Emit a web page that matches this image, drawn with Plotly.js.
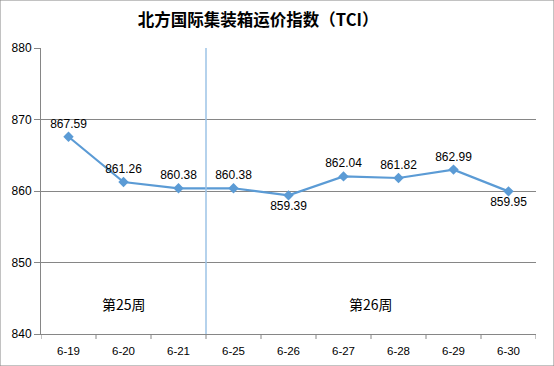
<!DOCTYPE html>
<html><head><meta charset="utf-8">
<script src="https://cdn.plot.ly/plotly-3.0.1.min.js"></script>
<style>html,body{margin:0;padding:0;background:#fff}#c{width:554px;height:366px}</style>
</head><body><div id="c"></div>
<script>
const dates = ["6-19","6-20","6-21","6-25","6-26","6-27","6-28","6-29","6-30"];
const tci = [867.59,861.26,860.38,860.38,859.39,862.04,861.82,862.99,859.95];
const labelPos = ["top center","top center","top center","top center","bottom center","top center","top center","top center","bottom center"];
const weekLabels = ["第25周","第26周"];
const weekX = [1.0, 5.5];
const weekY = 844.2;
const dividerX = 2.5;
const yTicks = [840,850,860,870,880];

const font = "Liberation Sans, Arial, sans-serif";
const trace = {
  x: dates.map((d,i)=>i), y: tci, type: "scatter", mode: "lines+markers+text",
  text: tci.map(v=>v.toFixed(2)), textposition: labelPos,
  textfont: {family: font, size: 12, color: "#000"},
  line: {color: "#5B9BD5", width: 2.2},
  marker: {symbol: "diamond", size: 8, color: "#5B9BD5"},
  cliponaxis: false, hoverinfo: "skip"
};
const layout = {
  width: 554, height: 366,
  margin: {l: 41, r: 18, t: 48, b: 32},
  paper_bgcolor: "#fff", plot_bgcolor: "#fff",
  showlegend: false,
  title: {text: "<b>北方国际集装箱运价指数（TCI）</b>", x: 0.466, xanchor: "center", y: 0.945, yanchor: "middle",
          font: {family: "Noto Sans CJK SC, sans-serif", size: 16.5, color: "#000"}},
  xaxis: {
    range: [-0.5, 8.5], tickmode: "array", tickvals: dates.map((d,i)=>i), ticktext: dates,
    showgrid: false, zeroline: false, showline: true, linecolor: "#868686", linewidth: 1,
    ticks: "", ticklabelstandoff: 6, fixedrange: true,
    tickfont: {family: font, size: 11.5, color: "#000"}
  },
  yaxis: {
    range: [840, 880], tickmode: "array", tickvals: yTicks, ticktext: yTicks.map(String),
    showgrid: true, gridcolor: "#868686", gridwidth: 1, zeroline: false,
    showline: true, linecolor: "#868686", linewidth: 1,
    ticks: "outside", ticklen: 6, tickcolor: "#868686",
    tickfont: {family: font, size: 12, color: "#000"}
  },
  shapes: [
    {type: "line", xref: "x", yref: "paper", x0: dividerX, x1: dividerX, y0: 0, y1: 1,
     line: {color: "#9DC3E6", width: 1.5}},
    {type: "rect", xref: "paper", yref: "paper", x0: -41/495, x1: 1+18/495, y0: -32/286, y1: 1+48/286,
     line: {color: "#868686", width: 1}}
  ],
  annotations: weekLabels.map((t,i)=>({x: weekX[i], y: weekY, xref: "x", yref: "y", text: t, showarrow: false,
     font: {family: "Noto Sans CJK SC, sans-serif", size: 14, color: "#000"}}))
};
// boundary ticks for x axis
for (let i = 0; i <= dates.length; i++) {
  layout.shapes.push({type: "line", xref: "x", yref: "paper", x0: i-0.5, x1: i-0.5, y0: 0, y1: -5/286,
    line: {color: "#868686", width: 1}});
}
Plotly.newPlot("c", [trace], layout, {staticPlot: true});
</script></body></html>
